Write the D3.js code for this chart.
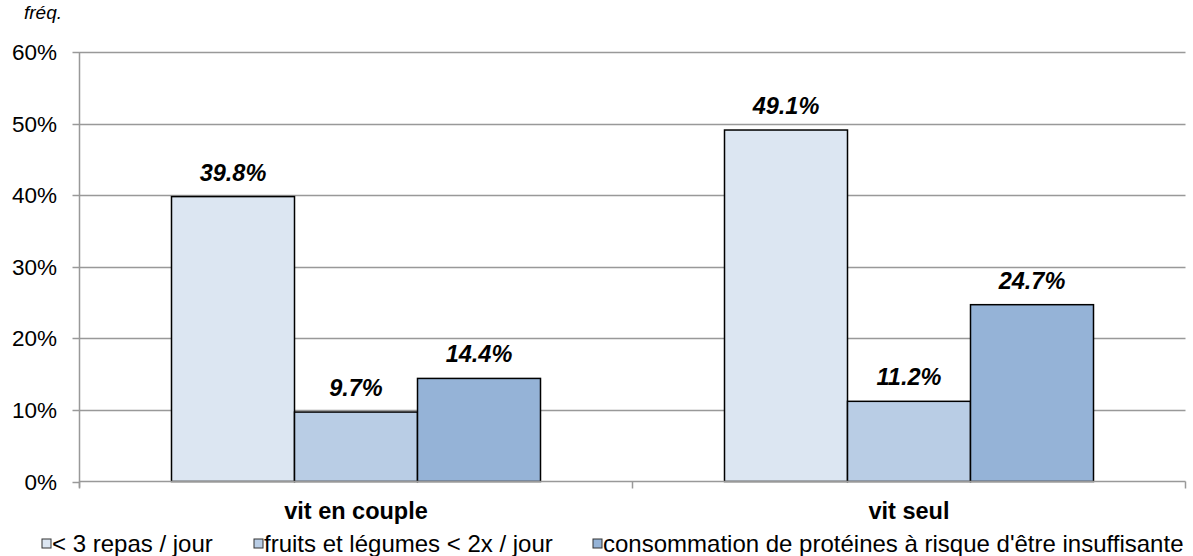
<!DOCTYPE html>
<html>
<head>
<meta charset="utf-8">
<script src="https://cdn.jsdelivr.net/npm/d3@7"></script>
<style>
  body { margin: 0; background: #fff; }
  text { font-family: "Liberation Sans", Arial, sans-serif; }
</style>
</head>
<body>
<svg width="1193" height="556"></svg>
<script>
const categories = ["vit en couple", "vit seul"]
const series = ["< 3 repas / jour", "fruits et légumes < 2x / jour", "consommation de protéines à risque d'être insuffisante"]
const values = [
	[39.8, 9.7, 14.4],
	[49.1, 11.2, 24.7]
]
const yTicks = [0, 10, 20, 30, 40, 50, 60]
const colors = ["#dce6f2", "#b9cde5", "#95b3d7"]

const svg = d3.select("svg")
const plotL = 79.5, plotR = 1185.5, plotT = 52, plotB = 481.5

const x = d3.scaleBand().domain(categories).range([plotL, plotR])
// bars take 369 of the 553 px per group
const bw = 123
const y = d3.scaleLinear().domain([0, 60]).range([plotB, plotT])

// gridlines
svg.append("g").selectAll("line").data(yTicks.filter(d => d > 0)).join("line")
	.attr("x1", plotL).attr("x2", plotR)
	.attr("y1", d => Math.round(y(d)) + 0.5).attr("y2", d => Math.round(y(d)) + 0.5)
	.attr("stroke", "#999").attr("stroke-width", 1.5)

// y axis
svg.append("line").attr("x1", plotL).attr("x2", plotL).attr("y1", plotT).attr("y2", plotB + 6)
	.attr("stroke", "#999").attr("stroke-width", 1.5)
svg.append("g").selectAll("line").data(yTicks).join("line")
	.attr("x1", plotL - 7).attr("x2", plotL)
	.attr("y1", d => Math.round(y(d)) + 0.5).attr("y2", d => Math.round(y(d)) + 0.5)
	.attr("stroke", "#999").attr("stroke-width", 1.5)
svg.append("g").selectAll("text").data(yTicks).join("text")
	.attr("x", 57).attr("y", d => y(d) + 8)
	.attr("text-anchor", "end").attr("font-size", 22.5)
	.text(d => d + "%")

svg.append("text").attr("x", 24).attr("y", 19)
	.attr("font-size", 19).attr("font-style", "italic").text("fréq.")

// bars
const groups = svg.append("g").selectAll("g").data(categories).join("g")
groups.each(function(c, i) {
	const g = d3.select(this)
	const cx = x(c) + x.bandwidth() / 2
	const x0 = cx - bw * series.length / 2
	g.selectAll("rect").data(values[i]).join("rect")
		.attr("x", (d, j) => x0 + j * bw)
		.attr("y", d => y(d))
		.attr("width", bw)
		.attr("height", d => y(0) - y(d))
		.attr("fill", (d, j) => colors[j])
		.attr("stroke", "#000").attr("stroke-width", 1.5)
	g.selectAll("text").data(values[i]).join("text")
		.attr("x", (d, j) => x0 + j * bw + bw / 2)
		.attr("y", d => y(d) - 16)
		.attr("text-anchor", "middle")
		.attr("font-size", 23.5).attr("font-weight", "bold").attr("font-style", "italic")
		.text(d => d.toFixed(1) + "%")
})

// x axis
svg.append("line").attr("x1", plotL).attr("x2", plotR).attr("y1", plotB).attr("y2", plotB)
	.attr("stroke", "#999").attr("stroke-width", 1.5)
svg.append("g").selectAll("line").data([plotL, x(categories[1]), plotR]).join("line")
	.attr("x1", d => d).attr("x2", d => d).attr("y1", plotB).attr("y2", plotB + 7)
	.attr("stroke", "#999").attr("stroke-width", 1.5)
svg.append("g").selectAll("text").data(categories).join("text")
	.attr("x", d => x(d) + x.bandwidth() / 2).attr("y", 519)
	.attr("text-anchor", "middle").attr("font-size", 23.5).attr("font-weight", "bold")
	.text(d => d)

// legend
const legX = [42, 254, 593]
const leg = svg.append("g").selectAll("g").data(series).join("g")
	.attr("transform", (d, i) => `translate(${legX[i]},539)`)
leg.append("rect").attr("width", 9).attr("height", 9)
	.attr("fill", (d, i) => colors[i]).attr("stroke", "#333").attr("stroke-width", 1)
leg.append("text").attr("x", 10).attr("y", 13).attr("font-size", 24).text(d => d)
</script>
</body>
</html>
